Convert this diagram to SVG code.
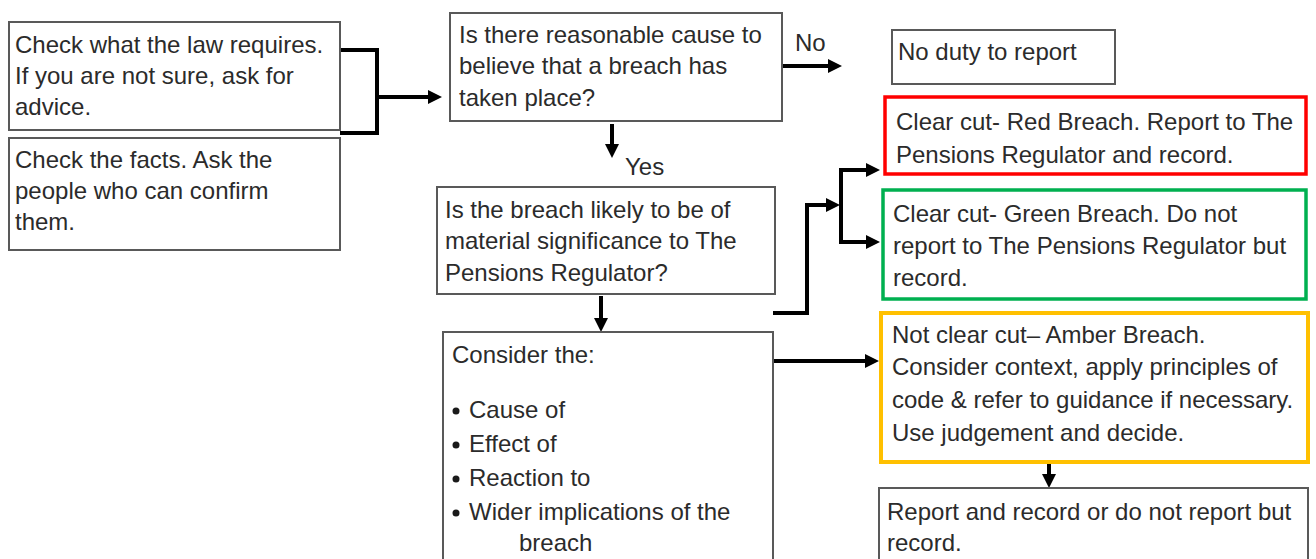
<svg xmlns="http://www.w3.org/2000/svg" width="1316" height="559" viewBox="0 0 1316 559">
<style>
  text { font-family: "Liberation Sans", Arial, sans-serif; font-size: 24px; fill: #2b2b2b; }
  .box { fill: #ffffff; stroke: #595959; stroke-width: 2; }
  .red { fill: #ffffff; stroke: #ff0000; stroke-width: 3.5; }
  .green { fill: #ffffff; stroke: #00b050; stroke-width: 3.5; }
  .amber { fill: #ffffff; stroke: #ffc000; stroke-width: 4; }
  .conn { fill: none; stroke: #000000; stroke-width: 4; }
  .arr { fill: none; stroke: #000000; stroke-width: 4; marker-end: url(#ah); }
  .dot { fill: #1a1a1a; }
</style>
<defs>
  <marker id="ah" markerUnits="userSpaceOnUse" markerWidth="16" markerHeight="16" refX="3" refY="7" orient="auto">
    <path d="M0,0 L14,7 L0,14 Z" fill="#000000"/>
  </marker>
</defs>
<rect width="1316" height="559" fill="#ffffff"/>

<g id="connectors">
  <path class="conn" d="M340,50 H377 V133 H340"/>
  <path class="arr" d="M377,97 H431"/>
  <path class="arr" d="M777,66 H831"/>
  <text x="795" y="51">No</text>
  <path class="arr" d="M612,124 V147"/>
  <text x="625" y="175">Yes</text>
  <path class="arr" d="M601,296 V321"/>
  <path class="conn" d="M773,313 H807 V205"/>
  <path class="arr" d="M805,205 H829"/>
  <path class="conn" d="M841,170 V242"/>
  <path class="arr" d="M839,170 H869"/>
  <path class="arr" d="M839,242 H869"/>
  <path class="arr" d="M771,361 H868"/>
  <path class="arr" d="M1049,463 V477"/>
</g>

<g id="node-law">
  <rect class="box" x="9" y="22" width="331" height="108"/>
  <text x="15" y="53">Check what the law requires.</text>
  <text x="15" y="84">If you are not sure, ask for</text>
  <text x="15" y="115">advice.</text>
</g>

<g id="node-facts">
  <rect class="box" x="9" y="138" width="331" height="112"/>
  <text x="15" y="168">Check the facts. Ask the</text>
  <text x="15" y="199">people who can confirm</text>
  <text x="15" y="230">them.</text>
</g>

<g id="node-q1">
  <rect class="box" x="450" y="13" width="332" height="108"/>
  <text x="459" y="43">Is there reasonable cause to</text>
  <text x="459" y="74">believe that a breach has</text>
  <text x="459" y="106">taken place?</text>
</g>

<g id="node-noduty">
  <rect class="box" x="892" y="30" width="223" height="54"/>
  <text x="898" y="60">No duty to report</text>
</g>

<g id="node-q2">
  <rect class="box" x="437" y="187" width="338" height="107"/>
  <text x="445" y="218">Is the breach likely to be of</text>
  <text x="445" y="249">material significance to The</text>
  <text x="445" y="281">Pensions Regulator?</text>
</g>

<g id="node-consider">
  <rect class="box" x="443" y="332" width="330" height="240"/>
  <text x="452" y="363">Consider the:</text>
  <circle class="dot" cx="456" cy="411" r="3.5"/>
  <text x="469" y="418">Cause of</text>
  <circle class="dot" cx="456" cy="445" r="3.5"/>
  <text x="469" y="452">Effect of</text>
  <circle class="dot" cx="456" cy="479" r="3.5"/>
  <text x="469" y="486">Reaction to</text>
  <circle class="dot" cx="456" cy="513" r="3.5"/>
  <text x="469" y="520">Wider implications of the</text>
  <text x="519" y="551">breach</text>
</g>

<g id="node-red">
  <rect class="red" x="885" y="97" width="421" height="77"/>
  <text x="896" y="130">Clear cut- Red Breach. Report to The</text>
  <text x="896" y="163">Pensions Regulator and record.</text>
</g>

<g id="node-green">
  <rect class="green" x="883" y="190" width="423" height="109"/>
  <text x="893" y="222">Clear cut- Green Breach. Do not</text>
  <text x="893" y="254">report to The Pensions Regulator but</text>
  <text x="893" y="286">record.</text>
</g>

<g id="node-amber">
  <rect class="amber" x="881" y="313" width="427" height="149"/>
  <text x="892" y="343">Not clear cut– Amber Breach.</text>
  <text x="892" y="375">Consider context, apply principles of</text>
  <text x="892" y="408">code &amp; refer to guidance if necessary.</text>
  <text x="892" y="441">Use judgement and decide.</text>
</g>

<g id="node-final">
  <rect class="box" x="879" y="488" width="429" height="81"/>
  <text x="887" y="520">Report and record or do not report but</text>
  <text x="887" y="551">record.</text>
</g>
</svg>
